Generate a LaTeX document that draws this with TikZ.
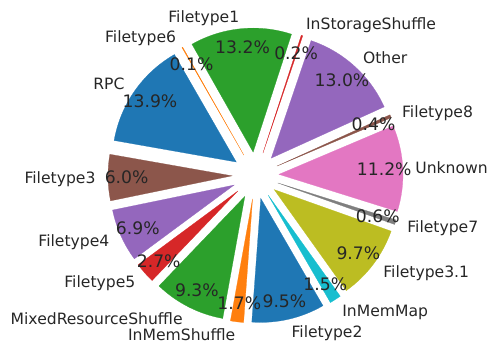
\documentclass[tikz,border=0pt]{standalone}
\usepackage{fontspec}
\setmainfont{DejaVu Sans}
\usepackage{tikz}
\definecolor{tabblue}{HTML}{1F77B4}
\definecolor{taborange}{HTML}{FF7F0E}
\definecolor{tabgreen}{HTML}{2CA02C}
\definecolor{tabred}{HTML}{D62728}
\definecolor{tabpurple}{HTML}{9467BD}
\definecolor{tabbrown}{HTML}{8C564B}
\definecolor{tabpink}{HTML}{E377C2}
\definecolor{tabgray}{HTML}{7F7F7F}
\definecolor{tabolive}{HTML}{BCBD22}
\definecolor{tabcyan}{HTML}{17BECF}
\definecolor{labelgray}{HTML}{262626}

\begin{document}
\begin{tikzpicture}[x=1pt, y=1pt,
        wedge/.style={line width=0.25pt},
        lab/.style={inner sep=0pt, text height=15.9pt, text depth=3.7pt, text=labelgray, font=\fontsize{15.6}{18}\selectfont},
        pct/.style={inner sep=0pt, text height=17.1pt, text depth=4.1pt, text=labelgray, font=\fontsize{17.2}{20}\selectfont}]
        \coordinate (origin) at (0,0);
        \useasboundingbox (-255.5,-172.5) rectangle (236.5,175.5);
        \filldraw[wedge, tabblue] (144.95:23.5) -- ++(170:124) arc[start angle=170, end angle=119.91, radius=124] -- cycle;
        \filldraw[wedge, taborange] (119.73:23.5) -- ++(119.91:124) arc[start angle=119.91, end angle=119.55, radius=124] -- cycle;
        \filldraw[wedge, tabgreen] (95.77:23.5) -- ++(119.55:124) arc[start angle=119.55, end angle=71.98, radius=124] -- cycle;
        \filldraw[wedge, tabred] (71.62:23.5) -- ++(71.98:124) arc[start angle=71.98, end angle=71.26, radius=124] -- cycle;
        \filldraw[wedge, tabpurple] (47.84:23.5) -- ++(71.26:124) arc[start angle=71.26, end angle=24.41, radius=124] -- cycle;
        \filldraw[wedge, tabbrown] (23.69:23.5) -- ++(24.41:124) arc[start angle=24.41, end angle=22.97, radius=124] -- cycle;
        \filldraw[wedge, tabpink] (2.79:23.5) -- ++(22.97:124) arc[start angle=22.97, end angle=-17.39, radius=124] -- cycle;
        \filldraw[wedge, tabgray] (-18.47:23.5) -- ++(-17.39:124) arc[start angle=-17.39, end angle=-19.55, radius=124] -- cycle;
        \filldraw[wedge, tabolive] (-37.03:23.5) -- ++(-19.55:124) arc[start angle=-19.55, end angle=-54.50, radius=124] -- cycle;
        \filldraw[wedge, tabcyan] (-57.21:23.5) -- ++(-54.50:124) arc[start angle=-54.50, end angle=-59.91, radius=124] -- cycle;
        \filldraw[wedge, tabblue] (-77.03:23.5) -- ++(-59.91:124) arc[start angle=-59.91, end angle=-94.14, radius=124] -- cycle;
        \filldraw[wedge, taborange] (-97.21:23.5) -- ++(-94.14:124) arc[start angle=-94.14, end angle=-100.27, radius=124] -- cycle;
        \filldraw[wedge, tabgreen] (-117.03:23.5) -- ++(-100.27:124) arc[start angle=-100.27, end angle=-133.78, radius=124] -- cycle;
        \filldraw[wedge, tabred] (-138.65:23.5) -- ++(-133.78:124) arc[start angle=-133.78, end angle=-143.51, radius=124] -- cycle;
        \filldraw[wedge, tabpurple] (-155.94:23.5) -- ++(-143.51:124) arc[start angle=-143.51, end angle=-168.37, radius=124] -- cycle;
        \filldraw[wedge, tabbrown] (-179.18:23.5) -- ++(-168.37:124) arc[start angle=-168.37, end angle=-190, radius=124] -- cycle;
        \node[lab, anchor=east] (rpc) at (144.95:159.9) {RPC};
        \node[lab, anchor=east] (ft6) at (119.73:159.9) {Filetype6};
        \node[lab, anchor=east] (ft1) at (95.77:159.9) {Filetype1};
        \node[lab, anchor=west] (iss) at (71.62:159.9) {InStorageShuffle};
        \node[lab, anchor=west] (other) at (47.84:159.9) {Other};
        \node[lab, anchor=west] (ft8) at (23.69:159.9) {Filetype8};
        \node[lab, anchor=west] (unknown) at (2.79:159.9) {Unknown};
        \node[lab, anchor=west] (ft7) at (-18.47:159.9) {Filetype7};
        \node[lab, anchor=west] (ft31) at (-37.03:159.9) {Filetype3.1};
        \node[lab, anchor=west] (imm) at (-57.21:159.9) {InMemMap};
        \node[lab, anchor=west] (ft2) at (-77.03:159.9) {Filetype2};
        \node[lab, anchor=east] (ims) at (-97.21:159.9) {InMemShuffle};
        \node[lab, anchor=east] (mrs) at (-117.03:159.9) {MixedResourceShuffle};
        \node[lab, anchor=east] (ft5) at (-138.65:159.9) {Filetype5};
        \node[lab, anchor=east] (ft4) at (-155.94:159.9) {Filetype4};
        \node[lab, anchor=east] (ft3) at (-179.18:159.9) {Filetype3};
        \node[pct] (rpc pct) at (144.95:128.9) {13.9\%};
        \node[pct] (ft6 pct) at (119.73:128.9) {0.1\%};
        \node[pct] (ft1 pct) at (95.77:128.9) {13.2\%};
        \node[pct] (iss pct) at (71.62:128.9) {0.2\%};
        \node[pct] (other pct) at (47.84:128.9) {13.0\%};
        \node[pct] (ft8 pct) at (23.69:128.9) {0.4\%};
        \node[pct] (unknown pct) at (2.79:128.9) {11.2\%};
        \node[pct] (ft7 pct) at (-18.47:128.9) {0.6\%};
        \node[pct] (ft31 pct) at (-37.03:128.9) {9.7\%};
        \node[pct] (imm pct) at (-57.21:128.9) {1.5\%};
        \node[pct] (ft2 pct) at (-77.03:128.9) {9.5\%};
        \node[pct] (ims pct) at (-97.21:128.9) {1.7\%};
        \node[pct] (mrs pct) at (-117.03:128.9) {9.3\%};
        \node[pct] (ft5 pct) at (-138.65:128.9) {2.7\%};
        \node[pct] (ft4 pct) at (-155.94:128.9) {6.9\%};
        \node[pct] (ft3 pct) at (-179.18:128.9) {6.0\%};
    \end{tikzpicture}
\end{document}
